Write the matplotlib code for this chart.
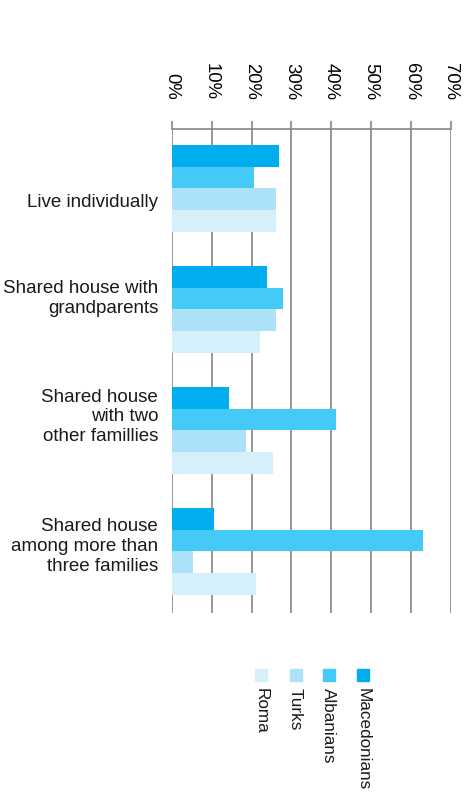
import numpy as np
import matplotlib.pyplot as plt
from matplotlib.patches import Rectangle

plt.rcParams['font.family'] = ['Liberation Sans', 'DejaVu Sans']

# household type categories (top to bottom)
categories = [
    "Live individually",
    "Shared house with\ngrandparents",
    "Shared house\nwith two\nother famillies",
    "Shared house\namong more than\nthree families",
]
# share of respondents per group, in percent
macedonians = [26.9, 23.9, 14.4, 10.6]
albanians = [20.6, 27.9, 41.2, 63.0]
turks = [26.1, 26.1, 18.6, 5.3]
roma = [26.1, 22.1, 25.4, 21.1]

series_names = ["Macedonians", "Albanians", "Turks", "Roma"]
series_values = [macedonians, albanians, turks, roma]
colors = ["#00AEEF", "#45C9F6", "#ABE2FA", "#D5EFFB"]

xticks = [0, 10, 20, 30, 40, 50, 60, 70]
xtick_labels = [f"{t}%" for t in xticks]

fig = plt.figure(figsize=(4.66, 7.93), dpi=100)
ax = fig.add_axes([0.3685, 0.2270, 0.5993, 0.6103])

bar_h = 0.18
y = np.arange(len(categories))
for k, (vals, col) in enumerate(zip(series_values, colors)):
    ax.barh(y + (k - 1.5) * bar_h, vals, height=bar_h, color=col,
            edgecolor='none', zorder=2)

ax.set_xlim(0, 70)
ax.set_ylim(3.51, -0.49)

ax.set_xticks(xticks)
ax.set_xticklabels(xtick_labels, rotation=-90, fontsize=13.3)
ax.xaxis.tick_top()
ax.tick_params(axis='x', direction='out', length=6, width=1.2,
               color='#858585', pad=15)
for lbl in ax.get_xticklabels():
    lbl.set_va('bottom')
    lbl.set_ha('center')
ax.set_yticks([])
ax.xaxis.grid(True, color='#858585', linewidth=1.2, zorder=0)
ax.set_axisbelow(True)

for side in ['left', 'right', 'bottom']:
    ax.spines[side].set_visible(False)
ax.spines['top'].set_color('#858585')
ax.spines['top'].set_linewidth(1.2)

# category labels, nudged a little off the group centre
label_shift = [0.12, -0.09, -0.11, -0.04]
for i, (cat, dy) in enumerate(zip(categories, label_shift)):
    ax.text(-3.4, i + dy, cat, ha='right', va='center', fontsize=13.5,
            linespacing=1.22, color='#1a1a1a')

# legend drawn by hand: squares with rotated names underneath
leg_x = [261, 295.5, 328.5, 363]
leg_names = ["Roma", "Turks", "Albanians", "Macedonians"]
leg_colors = [colors[3], colors[2], colors[1], colors[0]]
W, H = 466, 793
sq = 12
for xc, name, col in zip(leg_x, leg_names, leg_colors):
    fig.patches.append(Rectangle(((xc - sq / 2) / W, 1 - 681 / H), sq / W, sq / H,
                                 transform=fig.transFigure, color=col,
                                 figure=fig))
    fig.text(xc / W, 1 - 688 / H, name, rotation=-90, ha='center', va='top',
             fontsize=12.3, color='#1a1a1a')

fig.savefig("out.png", dpi=100)
